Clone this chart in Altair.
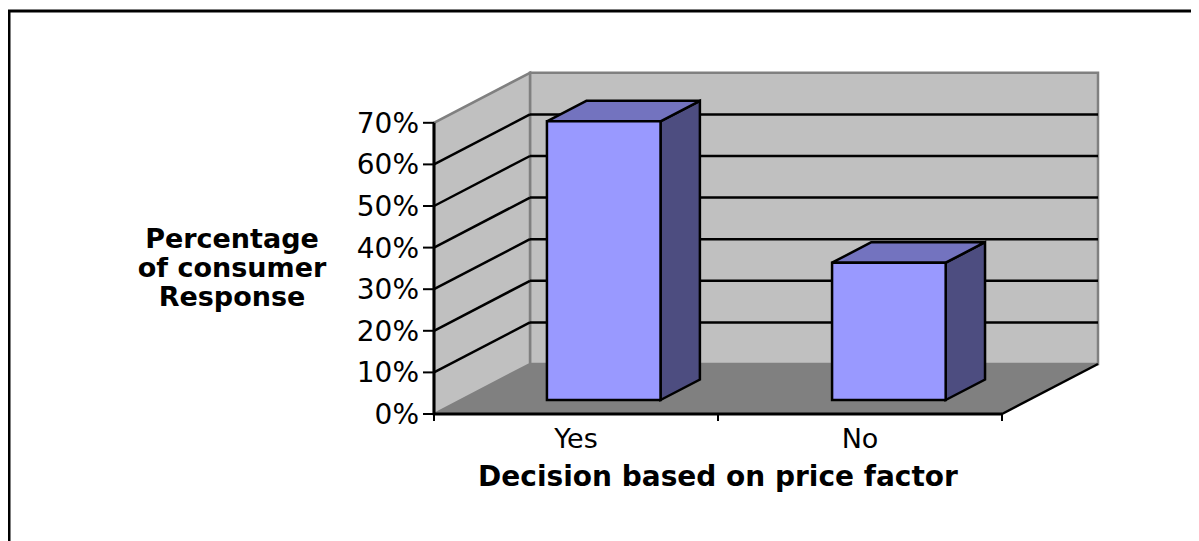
import altair as alt
import pandas as pd

categories = ["Yes", "No"]
values = [0.67, 0.33]
y_ticks = [0.0, 0.1, 0.2, 0.3, 0.4, 0.5, 0.6, 0.7]
x_ticks = [0, 1, 2]
y_title = ["Percentage", "of consumer", "Response"]
x_title = "Decision based on price factor"

W, H = 1183, 533
PX_C = 284.0      # pixels per category
PX_V = 416.0      # pixels per 1.0 of value
X0, Y0 = 434 - 8, 414 - 8
DX = 96 / PX_C    # depth shift in category units
DY = 50 / PX_V    # depth shift in value units
VMAX = 0.7
NC = 2
Z1, Z2 = 0.28, 0.69
HALF = 0.2
BAR_SHIFT = [0.003, 0.007]

FONT = "DejaVu Sans"
LW = 2.5

xs = alt.Scale(domain=[-X0 / PX_C, (W - X0) / PX_C], nice=False, zero=False)
ys = alt.Scale(domain=[(Y0 - H) / PX_V, Y0 / PX_V], nice=False, zero=False)


def X(f="x", **k):
    return alt.X(f"{f}:Q", scale=xs, axis=None, **k)


def Y(f="y", **k):
    return alt.Y(f"{f}:Q", scale=ys, axis=None, **k)


def vert_area(rows, **style):
    """Parallelogram with vertical edges."""
    return alt.Chart(pd.DataFrame(rows)).mark_area(**style).encode(
        x=X(), y=Y(), y2=alt.Y2("y2:Q"))


def horiz_area(rows, **style):
    """Parallelogram with horizontal edges."""
    return alt.Chart(pd.DataFrame(rows)).mark_area(orient="horizontal", **style).encode(
        y=Y(), x=X(), x2=alt.X2("x2:Q"))


def segments(rows, **style):
    return alt.Chart(pd.DataFrame(rows)).mark_line(**style).encode(
        x=X(), y=Y(), detail="g:N", order="o:Q")


def seg(g, x1, y1, x2, y2):
    return [dict(g=g, o=0, x=x1, y=y1), dict(g=g, o=1, x=x2, y=y2)]


def texts(rows, **style):
    return alt.Chart(pd.DataFrame(rows)).mark_text(font=FONT, color="black", **style).encode(
        x=X(), y=Y(), text="t:N")


EDGE = "#808080"
WALL = "#C0C0C0"

floor = horiz_area(
    [dict(y=0, x=0, x2=NC), dict(y=DY, x=DX, x2=NC + DX)],
    fill=EDGE)

back = alt.Chart(pd.DataFrame([dict(x=DX, x2=NC + DX, y=DY, y2=VMAX + DY)])).mark_rect(
    fill=WALL, stroke=EDGE, strokeWidth=LW
).encode(x=X(), x2="x2:Q", y=Y(), y2="y2:Q")

left = vert_area(
    [dict(x=0, y=0, y2=VMAX), dict(x=DX, y=DY, y2=VMAX + DY)],
    fill=WALL, stroke=EDGE, strokeWidth=LW)

grid_rows = []
for i, v in enumerate(y_ticks[1:-1]):
    grid_rows += seg(f"l{i}", 0, v, DX, v + DY)
    grid_rows += seg(f"b{i}", DX, v + DY, NC + DX, v + DY)
grid = segments(grid_rows, color="black", strokeWidth=LW)

floor_edge = segments(seg("e", NC, 0, NC + DX, DY), color="black", strokeWidth=LW)

front_rows, side_rows, top_rows = [], [], []
for i, (c, v) in enumerate(zip(categories, values)):
    x1 = i + 0.5 + BAR_SHIFT[i] - HALF
    x2 = i + 0.5 + BAR_SHIFT[i] + HALF
    front_rows.append(dict(cat=c, x=x1 + Z1 * DX, x2=x2 + Z1 * DX, y=Z1 * DY, y2=v + Z1 * DY))
    side_rows.append([dict(cat=c, x=x2 + Z1 * DX, y=Z1 * DY, y2=v + Z1 * DY),
                      dict(cat=c, x=x2 + Z2 * DX, y=Z2 * DY, y2=v + Z2 * DY)])
    top_rows.append([dict(cat=c, y=v + Z1 * DY, x=x1 + Z1 * DX, x2=x2 + Z1 * DX),
                     dict(cat=c, y=v + Z2 * DY, x=x1 + Z2 * DX, x2=x2 + Z2 * DX)])

sides = [vert_area(r, fill="#4D4D80", stroke="black", strokeWidth=LW) for r in side_rows]
tops = [horiz_area(r, fill="#7373BF", stroke="black", strokeWidth=LW) for r in top_rows]
fronts = alt.Chart(pd.DataFrame(front_rows)).mark_rect(
    fill="#9999FF", stroke="black", strokeWidth=LW
).encode(x=X(), x2="x2:Q", y=Y(), y2="y2:Q")

axis_lines = segments(
    seg("x", 0, 0, NC, 0) + seg("y", 0, 0, 0, VMAX), color="black", strokeWidth=3)

x_tick_rules = alt.Chart(pd.DataFrame(dict(x=x_ticks, y=[0] * 3, y2=[-7 / PX_V] * 3))).mark_rule(
    color="black", strokeWidth=2
).encode(x=X(), y=Y(), y2="y2:Q")

y_tick_rules = alt.Chart(pd.DataFrame(dict(
    x=[-11 / PX_C] * len(y_ticks), x2=[0.0] * len(y_ticks), y=y_ticks))).mark_rule(
    color="black", strokeWidth=2
).encode(x=X(), x2="x2:Q", y=Y())

y_labels = texts([dict(x=0, y=v, t=f"{round(v * 100)}%") for v in y_ticks],
                 align="right", baseline="middle", dx=-15, dy=2, fontSize=28)
x_labels = texts([dict(x=i + 0.5, y=0, t=c) for i, c in enumerate(categories)],
                 align="center", baseline="middle", dy=26, fontSize=27)
x_title_mark = texts([dict(x=NC / 2, y=0, t=x_title)],
                     align="center", baseline="middle", dy=64, fontSize=28, fontWeight="bold")
y_title_mark = texts([dict(x=-202 / PX_C, y=(414 - yy) / PX_V, t=t)
                      for t, yy in zip(y_title, [240, 269, 298])],
                     align="center", baseline="middle", fontSize=27, fontWeight="bold")

frame_top = alt.Chart(pd.DataFrame({"a": [0]})).mark_rule(color="black", strokeWidth=3).encode(
    x=alt.value(0), x2=alt.value(W), y=alt.value(3))
frame_left = alt.Chart(pd.DataFrame({"a": [0]})).mark_rule(color="black", strokeWidth=3).encode(
    y=alt.value(3), y2=alt.value(H), x=alt.value(1))

chart = alt.layer(
    floor, back, left, grid, floor_edge, *sides, *tops, fronts,
    axis_lines, x_tick_rules, y_tick_rules, y_labels, x_labels, x_title_mark, y_title_mark,
    frame_top, frame_left
).properties(
    width=W, height=H, padding=0, background="white",
    autosize=alt.AutoSizeParams(type="none")
).configure_view(stroke=None)

chart.save("out.html", embed_options={"renderer": "svg", "actions": False})
